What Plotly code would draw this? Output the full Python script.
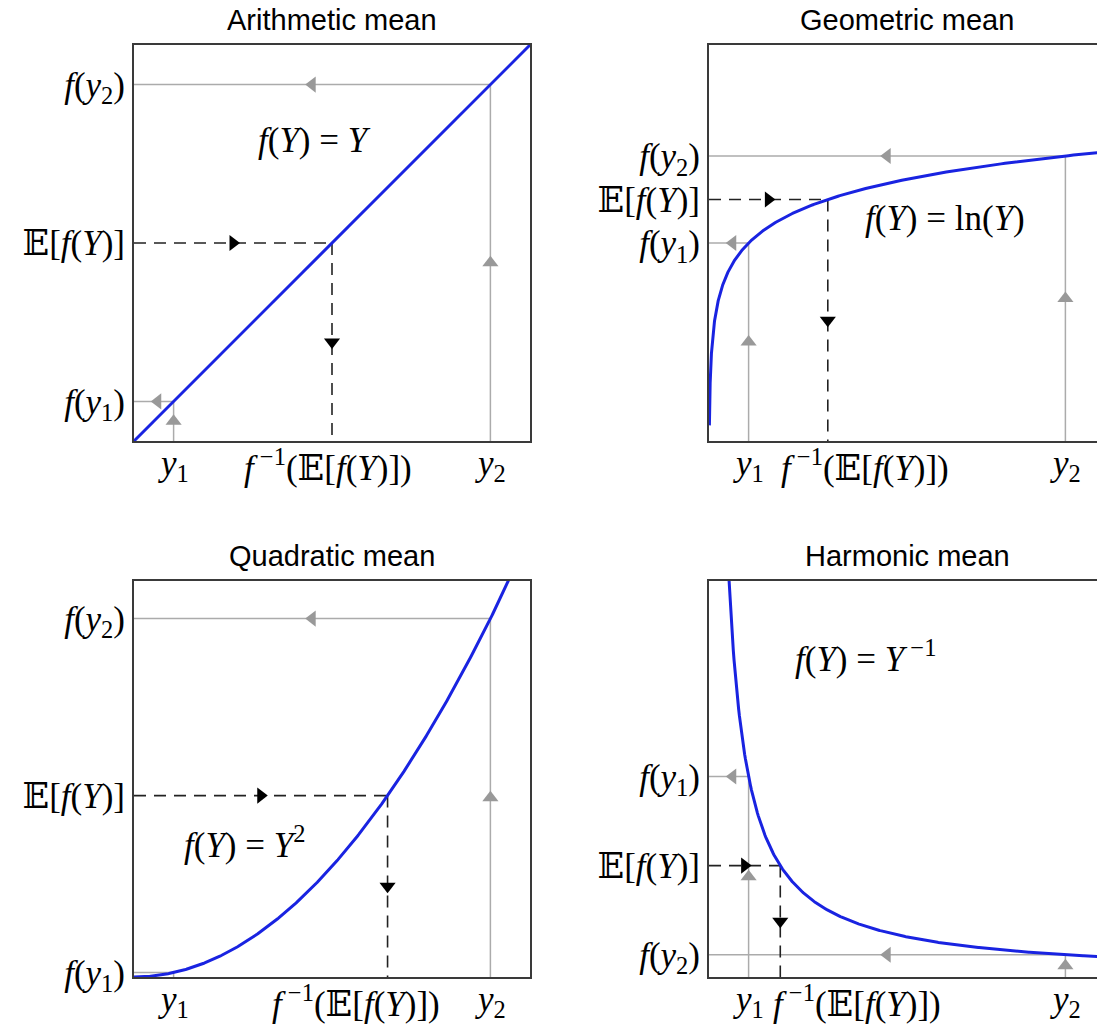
import numpy as np
import plotly.graph_objects as go

W, H = 1097, 1027

# ---- data ----
titles = ["Arithmetic mean", "Geometric mean", "Quadratic mean", "Harmonic mean"]
y_points = [1.0, 9.0]                 # y1, y2 (same in every panel)
func_names = ["identity", "log", "square", "reciprocal"]
func_labels = [
    "<i>f</i>(<i>Y</i>) = <i>Y</i>",
    "<i>f</i>(<i>Y</i>) = ln(<i>Y</i>)",
    "<i>f</i>(<i>Y</i>) = <i>Y</i><sup>2</sup>",
    "<i>f</i>(<i>Y</i>) = <i>Y</i><sup> −1</sup>",
]
label_pos = [(4.57, 7.6), (5.96, 0.63), (2.8, 30.5), (3.96, 1.6)]
curve_start = [0.0, 0.01, 0.0, 0.5]
y_ticktext = ["<i>f</i>(<i>y</i><sub>1</sub>)", "𝔼[<i>f</i>(<i>Y</i>)]", "<i>f</i>(<i>y</i><sub>2</sub>)"]
x_ticktext = ["<i>y</i><sub>1</sub>", "<i>f</i><sup> −1</sup>(𝔼[<i>f</i>(<i>Y</i>)])", "<i>y</i><sub>2</sub>"]
inv_label_shift = [-4, 37, -32, 77]   # horizontal offset (px) of the f^-1 label

funcs = {
    "identity": (lambda v: v, lambda v: v),
    "log": (np.log, np.exp),
    "square": (np.square, np.sqrt),
    "reciprocal": (lambda v: 1.0 / v, lambda v: 1.0 / v),
}

# ---- layout geometry ----
xdom_left = [134 / W, 530 / W]
xdom_right = [709 / W, 1.0]
ydom_top = [1 - 441 / H, 1 - 45 / H]
ydom_bot = [1 - 977 / H, 1 - 581 / H]
domains = [(xdom_left, ydom_top), (xdom_right, ydom_top), (xdom_left, ydom_bot), (xdom_right, ydom_bot)]
xranges = [[0, 10], [0, 388 / 39.6], [0, 10], [0, 388 / 39.6]]
yranges = [[0, 10], [-5, 5], [0, 89.5], [0, 1.975]]

BLUE = "rgb(25,35,225)"
GRAY = "#ababab"
GRAY_ARROW = "#999999"
DARK = "#222222"
SERIF = "Liberation Serif, DejaVu Serif, serif"
TICK_SIZE = 35

fig = go.Figure()
layout = dict(width=W, height=H, margin=dict(l=0, r=0, t=0, b=0, autoexpand=False),
              paper_bgcolor="white", plot_bgcolor="white", showlegend=False)
annotations = []

for i in range(4):
    f, finv = funcs[func_names[i]]
    y1, y2 = y_points
    fy1, fy2 = float(f(y1)), float(f(y2))
    Ef = (fy1 + fy2) / 2
    m = float(finv(Ef))
    ymin = yranges[i][0]
    xa = "x" if i == 0 else f"x{i+1}"
    ya = "y" if i == 0 else f"y{i+1}"

    # gray guide lines
    for (yy, fyy) in [(y1, fy1), (y2, fy2)]:
        fig.add_trace(go.Scatter(x=[yy, yy], y=[ymin, fyy], mode="lines",
                                 line=dict(color=GRAY, width=1.5), xaxis=xa, yaxis=ya, hoverinfo="skip"))
        fig.add_trace(go.Scatter(x=[0, yy], y=[fyy, fyy], mode="lines",
                                 line=dict(color=GRAY, width=1.5), xaxis=xa, yaxis=ya, hoverinfo="skip"))
        if not (func_names[i] == "square" and yy == y1):
            fig.add_trace(go.Scatter(x=[yy], y=[(ymin + fyy) / 2], mode="markers",
                                     marker=dict(symbol="triangle-up", size=14, color=GRAY_ARROW),
                                     xaxis=xa, yaxis=ya, hoverinfo="skip", cliponaxis=False))
            fig.add_trace(go.Scatter(x=[yy / 2 + (0.1 if yy < 2 else 0)], y=[fyy], mode="markers",
                                     marker=dict(symbol="triangle-left", size=14, color=GRAY_ARROW),
                                     xaxis=xa, yaxis=ya, hoverinfo="skip", cliponaxis=False))

    # dashed black lines
    fig.add_trace(go.Scatter(x=[0, m], y=[Ef, Ef], mode="lines",
                             line=dict(color=DARK, width=1.6, dash="12px,8px"), xaxis=xa, yaxis=ya, hoverinfo="skip"))
    fig.add_trace(go.Scatter(x=[m, m], y=[Ef, ymin], mode="lines",
                             line=dict(color=DARK, width=1.6, dash="12px,8px"), xaxis=xa, yaxis=ya, hoverinfo="skip"))
    fig.add_trace(go.Scatter(x=[m / 2], y=[Ef], mode="markers",
                             marker=dict(symbol="triangle-right", size=14, color="black"),
                             xaxis=xa, yaxis=ya, hoverinfo="skip", cliponaxis=False))
    fig.add_trace(go.Scatter(x=[m], y=[(Ef + ymin) / 2], mode="markers",
                             marker=dict(symbol="triangle-down", size=14, color="black"),
                             xaxis=xa, yaxis=ya, hoverinfo="skip", cliponaxis=False))

    # function curve
    if func_names[i] == "log":
        xs = np.geomspace(curve_start[i], 10, 500)
    else:
        xs = np.linspace(curve_start[i], 10, 500)
    fig.add_trace(go.Scatter(x=xs, y=f(xs), mode="lines",
                             line=dict(color=BLUE, width=3), xaxis=xa, yaxis=ya, hoverinfo="skip"))

    # axes
    xd, yd = domains[i]
    right_panel = i in (1, 3)
    layout["xaxis" if i == 0 else f"xaxis{i+1}"] = dict(
        domain=xd, range=xranges[i], anchor=ya, showgrid=False, zeroline=False,
        showline=True, linecolor="#3a3a3a", linewidth=2, mirror=True, automargin=False,
        showticklabels=False, ticks="", fixedrange=True)
    layout["yaxis" if i == 0 else f"yaxis{i+1}"] = dict(
        domain=yd, range=yranges[i], anchor=xa, showgrid=False, zeroline=False,
        showline=True, linecolor="#3a3a3a", linewidth=2, mirror=(not right_panel), automargin=False,
        tickmode="array", tickvals=[fy1, Ef, fy2], ticktext=y_ticktext, ticks="",
        tickfont=dict(family=SERIF, size=TICK_SIZE, color="black"), fixedrange=True)

    # x tick labels (annotations so the f^-1 label can be nudged like in the original)
    for xv, txt, sh in zip([y1, m, y2], x_ticktext, [0, inv_label_shift[i], 0]):
        annotations.append(dict(x=xv, y=ymin, xref=xa, yref=ya, text=txt, showarrow=False,
                                xanchor="center", yanchor="middle", xshift=sh, yshift=-24,
                                font=dict(family=SERIF, size=TICK_SIZE, color="black")))
    # function label
    annotations.append(dict(x=label_pos[i][0], y=label_pos[i][1], xref=xa, yref=ya,
                            text=func_labels[i], showarrow=False,
                            font=dict(family=SERIF, size=35, color="black")))
    # title
    box_center = (xd[0] * W + 198) / W
    annotations.append(dict(x=box_center, y=yd[1] + 25 / H, xref="paper", yref="paper",
                            text=titles[i], showarrow=False, xanchor="center", yanchor="middle",
                            font=dict(family="Liberation Sans, Arial, sans-serif", size=29, color="black")))

layout["annotations"] = annotations
fig.update_layout(**layout)
fig.write_html("out.html", config={"displayModeBar": False},
               post_script="document.body.style.margin='0';document.body.style.overflow='hidden';")
